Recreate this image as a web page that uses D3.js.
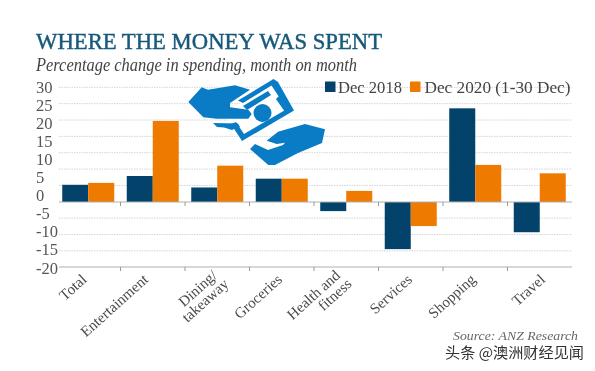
<!DOCTYPE html>
<html><head><meta charset="utf-8">
<script src="https://cdn.jsdelivr.net/npm/d3@7"></script>
<style>html,body{margin:0;padding:0;background:#fff}svg{display:block;filter:blur(0.4px)}text{font-family:"Liberation Serif",serif}</style>
</head><body><div id="chart"></div>
<script>
const categories = ["Total","Entertainment","Dining/\ntakeaway","Groceries","Health and\nfitness","Services","Shopping","Travel"];
const seriesNames = ["Dec 2018","Dec 2020 (1-30 Dec)"];
const dec2018 = [4.5,6.8,3.8,6.1,-2.8,-14.5,24.5,-9.3];
const dec2020 = [5.0,21.2,9.5,6.1,2.9,-7.4,9.7,7.5];
const tickLabels = [30,25,20,15,10,5,0,-5,-10,-15,-20];
const gridLevels = d3.range(12);
const colors = ["#03426b","#ee7a00"];

const svg = d3.select("#chart").append("svg").attr("width",595).attr("height",371);
const x = d3.scaleBand().domain(categories).range([56,572]);
const x1 = d3.scaleBand().domain([0,1]).range([6.25,58.25]);
const y = d3.scaleLinear().domain([-20,0,30]).range([267,202,87.3]);
const yLabel = d3.scaleLinear().domain([-20,30]).range([268,87]);
const yGrid = d3.scaleLinear().domain([0,11]).range([267.2,87.3]);

svg.append("text").attr("x",36).attr("y",48.5).attr("fill","#17597a").attr("stroke","#17597a").attr("stroke-width",0.45)
  .style("font-size","23.5px").attr("textLength",346).attr("lengthAdjust","spacingAndGlyphs")
  .text("WHERE THE MONEY WAS SPENT");
svg.append("text").attr("x",36).attr("y",70.5).attr("fill","#444")
  .style("font-size","18.5px").style("font-style","italic").attr("textLength",321).attr("lengthAdjust","spacingAndGlyphs")
  .text("Percentage change in spending, month on month");

svg.append("g").selectAll("line").data(gridLevels.filter(d=>d!==0&&d!==4)).join("line")
  .attr("x1",59).attr("x2",572).attr("y1",d=>yGrid(d)).attr("y2",d=>yGrid(d))
  .attr("stroke","#d4d4d4").attr("stroke-width",1).attr("stroke-dasharray","1.5 1");

svg.append("g").selectAll("text").data(tickLabels).join("text")
  .attr("x",36).attr("y",d=>yLabel(d)+5.5).attr("fill","#555").style("font-size","16.5px").text(d=>d);

// bars
[dec2018,dec2020].forEach((vals,s)=>{
  svg.append("g").selectAll("rect").data(vals).join("rect")
    .attr("x",(d,i)=>x(categories[i])+x1(s)).attr("width",x1.bandwidth())
    .attr("y",d=>y(Math.max(0,d))).attr("height",d=>Math.abs(y(d)-y(0)))
    .attr("fill",colors[s]);
});

// axis lines and ticks
[0,-20].forEach(v=>{
  const g = svg.append("g").attr("transform",`translate(0,${y(v)})`);
  g.append("line").attr("x1",59).attr("x2",572).attr("stroke","#b0b0b0").attr("stroke-width",1.2);
  g.selectAll("line.t").data(categories.slice(1)).join("line").attr("class","t")
    .attr("x1",d=>x(d)).attr("x2",d=>x(d)).attr("y1",0).attr("y2",4).attr("stroke","#999");
});

// category labels, rotated
const labelShift = [-3,-6,6,-1,0,0,-1,4];
const lab = svg.append("g").selectAll("g").data(categories).join("g")
  .attr("transform",(d,i)=>`translate(${x(d)+x.bandwidth()/2-1+labelShift[i]},277) rotate(-42)`);
lab.each(function(d){
  const lines = d.split("\n");
  d3.select(this).selectAll("text").data(lines).join("text")
    .attr("text-anchor","end").attr("fill","#4a4a4a").style("font-size","15px")
    .attr("x",(l,i)=>lines.length>1&&i===0?-3:0)
    .attr("y",(l,i)=>lines.length>1?(i===0?-3:11):5).text(l=>l);
});

// legend
const lgd = svg.append("g");
lgd.selectAll("rect").data(seriesNames).join("rect")
  .attr("x",(d,i)=>[325,410][i]).attr("y",81.5).attr("width",10.5).attr("height",10.5).attr("fill",(d,i)=>colors[i]);
lgd.selectAll("text").data(seriesNames).join("text")
  .attr("x",(d,i)=>[338,424.5][i]).attr("y",93).attr("fill","#444").style("font-size","16.5px")
  .attr("textLength",(d,i)=>[64,146][i]).attr("lengthAdjust","spacingAndGlyphs").text(d=>d);

// decorative hand-and-banknote icon
const icon = svg.append("g").attr("fill","#0a7cc6");
icon.append("path").attr("fill","#fff").attr("d","M273,79 L294,111 L242,141 L225,115 Z");
icon.append("path").attr("d","M188.3,102 L201.7,87.3 L208,89.7 L235,85.3 L250,89.7 L230,103 L230,107.3 L248.3,109.7 L251.7,114 L248.3,118.7 L216.7,118.7 L203.3,117.3 Z");
icon.append("path").attr("d","M213,123 L238,123.5 L240,127 L235,128.5 L232,130 L224,127.5 L217,127 Z");
icon.append("path").attr("d","M273.5,79 L278,82 L294,110.5 L242,141 L231,124 L236,122 L244,134 L287,109 L271.5,85.5 L243,103 L238,100.5 Z");
icon.append("path").attr("d","M268,91 L271,95 L247,110 L243,106 Z");
icon.append("path").attr("d","M279,96 L288,110 L285,112 L276,99 Z");
icon.append("circle").attr("cx",262.5).attr("cy",113).attr("r",9);
icon.append("path").attr("d","M250,149 L255,144 L268,150 L283,145 L285,142.7 L276.7,144 L266.7,140.7 L278,131.7 L305,124 L325,129.3 L322,143 L298,153 L275,165 L268.3,165 Z");

svg.append("text").attr("x",453).attr("y",339.5).attr("fill","#666").style("font-size","13.5px").style("font-style","italic")
  .attr("textLength",125).attr("lengthAdjust","spacingAndGlyphs").text("Source: ANZ Research");
svg.append("text").attr("x",445).attr("y",358).attr("fill","#333").style("font-family","'Noto Sans CJK SC'").style("font-size","14.5px")
  .attr("textLength",139).attr("lengthAdjust","spacingAndGlyphs").text("头条 @澳洲财经见闻");
</script></body></html>
